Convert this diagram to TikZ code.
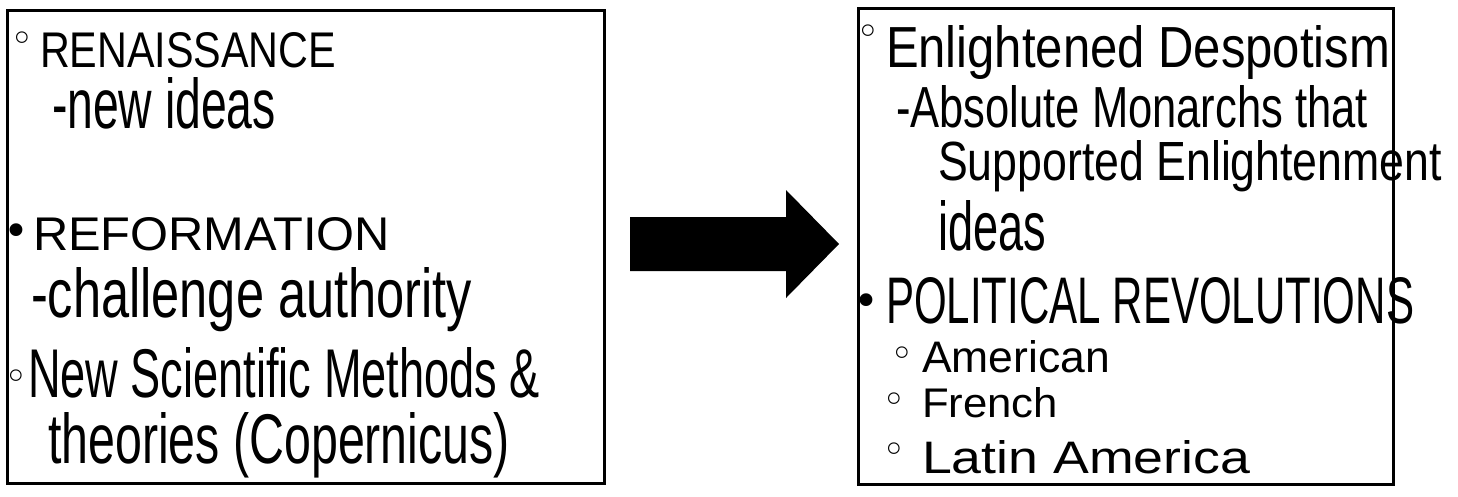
\documentclass[tikz,border=0pt]{standalone}
\usepackage{fontspec}
\usepackage{graphicx}
\usetikzlibrary{calc}
\setmainfont{Liberation Sans}
\newfontfamily\bulletfont{DejaVu Sans}
\newcommand{\fitline}[3]{\resizebox{#1pt}{#2pt}{#3}}
\begin{document}
\begin{tikzpicture}[x=1pt,y=-1pt,
  box/.style={draw=black,line width=2.5pt,inner sep=0pt,anchor=north west},
  hand/.style={anchor=base west,inner sep=0pt,outer sep=0pt},
  hdot/.style={inner sep=0pt,font=\bulletfont\fontsize{40}{40}\selectfont},
  fdot/.style={inner sep=0pt,font=\bulletfont\fontsize{44}{44}\selectfont}]
\useasboundingbox (0,0) rectangle (1458,496);
% boxes
\node[box,minimum width=597pt,minimum height=473pt] (L) at (6,9) {};
\node[box,minimum width=535pt,minimum height=476pt] (R) at (857,7) {};
% arrow
\coordinate (tail) at (630,244);
\coordinate (tip) at (839,244);
\fill[black] ($(tail)+(0,-27)$) -- ($(tip)+(-53,-27)$) -- ($(tip)+(-53,-54)$) -- (tip)
  -- ($(tip)+(-53,54)$) -- ($(tip)+(-53,27)$) -- ($(tail)+(0,27)$) -- cycle;
% left box text
\node[hdot] (b1) at (22,42) {◦};
\node[hand] (t1) at (40,67) {\fitline{296}{35}{RENAISSANCE}};
\node[hand] (t2) at (52,128) {\fitline{224}{51}{-new ideas}};
\node[fdot] (b2) at (16,235) {•};
\node[hand] (t3) at (33,250) {\fitline{357}{33}{REFORMATION}};
\node[hand] (t4) at (31,317) {\fitline{441}{50}{-challenge authority}};
\node[hdot] (b3) at (16,380) {◦};
\node[hand] (t5) at (28,397) {\fitline{512}{50}{New Scientific Methods \&}};
\node[hand] (t6) at (48,463) {\fitline{462}{51}{theories (Copernicus)}};
% right box text
\node[hdot] (b4) at (868,35) {◦};
\node[hand] (u1) at (886,67) {\fitline{504}{42}{Enlightened Despotism}};
\node[hand] (u2) at (896,127) {\fitline{472}{42}{-Absolute Monarchs that}};
\node[hand] (u3) at (938,180) {\fitline{504}{40}{Supported Enlightenment}};
\node[hand] (u4) at (938,250) {\fitline{108}{50}{ideas}};
\node[fdot] (b5) at (866,305) {•};
\node[hand] (u5) at (886,323) {\fitline{528}{46}{POLITICAL REVOLUTIONS}};
\node[hdot] (b6) at (902,357) {◦};
\node[hand] (u6) at (922,372) {\fitline{188}{32}{American}};
\node[hdot] (b7) at (894,403) {◦};
\node[hand] (u7) at (922,417) {\fitline{136}{30}{French}};
\node[hdot] (b8) at (894,453) {◦};
\node[hand] (u8) at (922,473) {\fitline{328}{33}{Latin America}};
\end{tikzpicture}
\end{document}
